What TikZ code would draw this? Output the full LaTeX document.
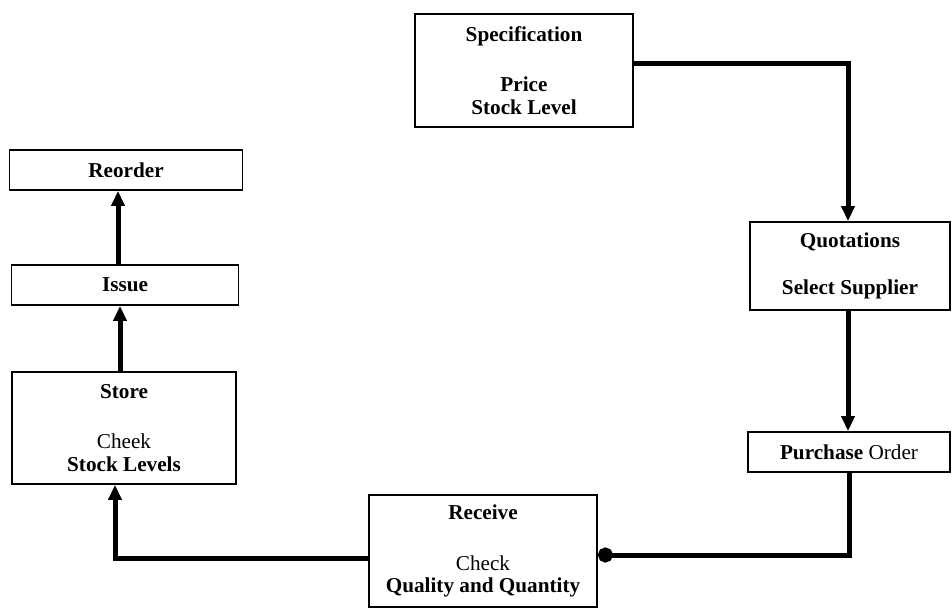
\documentclass[tikz,border=0pt]{standalone}
\usepackage{fontspec}
\setmainfont{Liberation Serif}
\usetikzlibrary{arrows.meta}
\begin{document}
\begin{tikzpicture}[x=0.5pt,y=-0.5pt,
  box/.style={draw,line width=0.9pt,align=center,inner sep=0pt,font=\fontsize{10.6}{11.2}\selectfont},
  flow/.style={line width=2.5pt,-{Triangle[width=6.5pt,length=7.5pt]}}]
\useasboundingbox (0,0) rectangle (952,610);
\node[box,minimum width=109pt,minimum height=56.5pt] (spec) at (524,70.5) {\textbf{Specification}\\[14pt]\textbf{Price}\\\textbf{Stock Level}};
\node[box,minimum width=100pt,minimum height=44pt] (quot) at (850,266) {\textbf{Quotations}\\[12.5pt]\textbf{Select Supplier}};
\node[box,minimum width=101pt,minimum height=20pt] (po) at (849,452) {\textbf{Purchase} Order};
\node[box,minimum width=114pt,minimum height=56pt] (recv) at (483,551) {\textbf{Receive}\\[14pt]Check\\\textbf{Quality and Quantity}};
\node[box,minimum width=112pt,minimum height=56pt] (store) at (124,428) {\textbf{Store}\\[14pt]Cheek\\\textbf{Stock Levels}};
\node[box,minimum width=113.5pt,minimum height=20pt] (issue) at (125,285) {\textbf{Issue}};
\node[box,minimum width=116.5pt,minimum height=20pt] (reorder) at (126,170) {\textbf{Reorder}};
\draw[flow] ([yshift=3.5pt]spec.east) -| ([xshift=-1pt]quot.north);
\draw[flow] ([xshift=-1pt]quot.south) -- ([xshift=-0.5pt]po.north);
\draw[line width=2.5pt,-{Circle[length=7.5pt]}] (po.south) |- ([yshift=-2pt]recv.east);
\draw[flow] ([yshift=-3.5pt]recv.west) -| ([xshift=-4.5pt]store.south);
\draw[flow] ([xshift=-2pt]store.north) -- ([xshift=-2.5pt]issue.south);
\draw[flow] ([xshift=-3.5pt]issue.north) -- ([xshift=-4pt]reorder.south);
\end{tikzpicture}
\end{document}
